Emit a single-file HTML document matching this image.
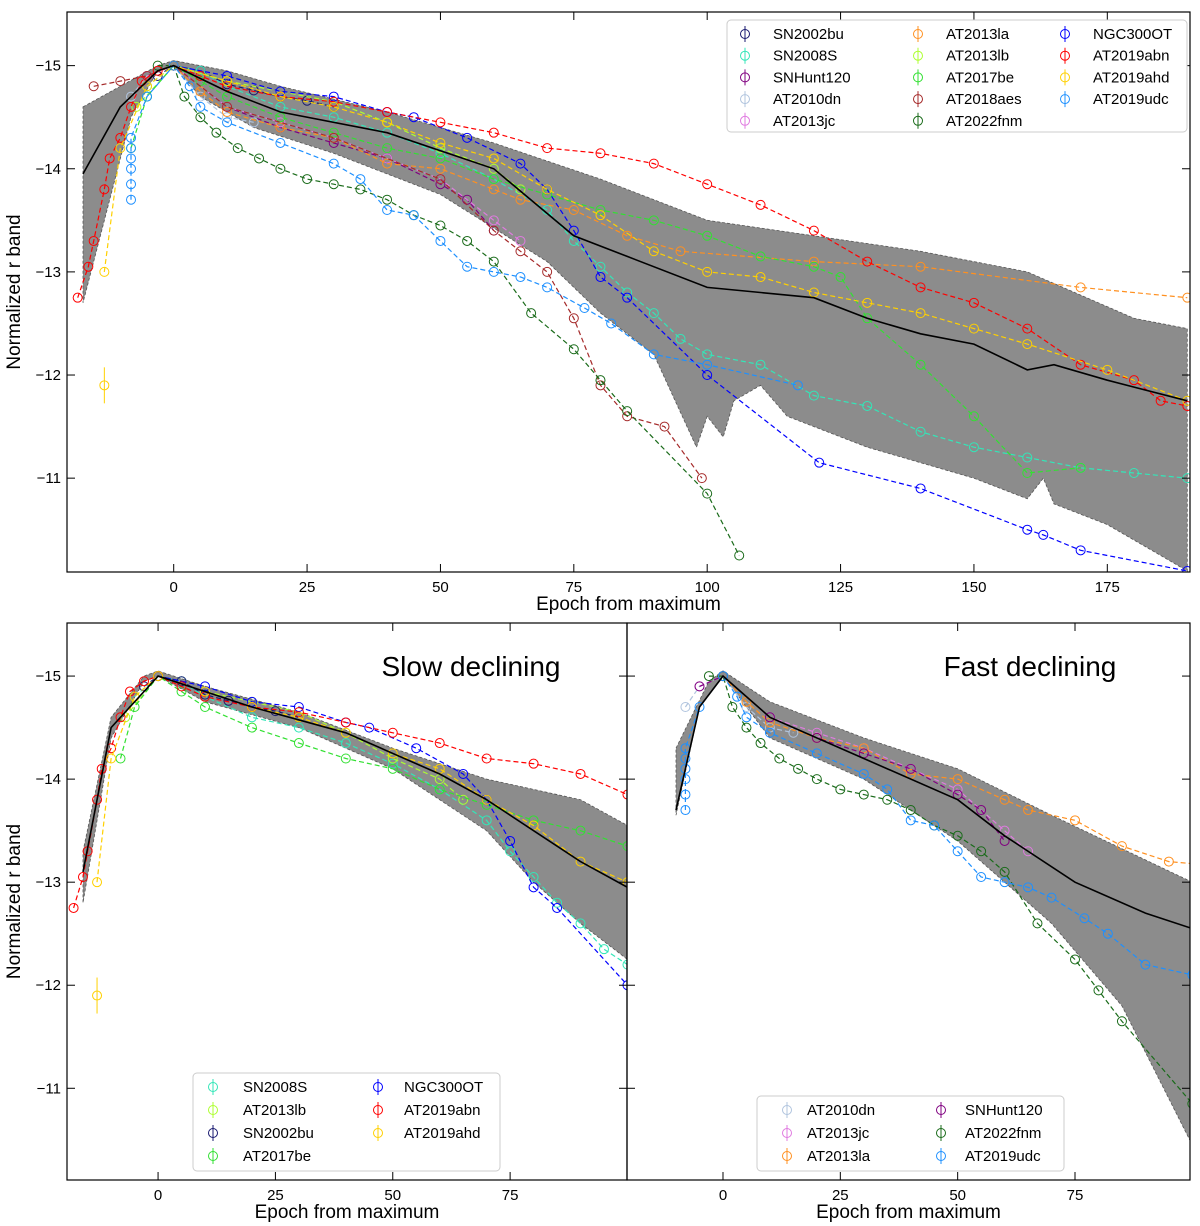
<!DOCTYPE html>
<html><head><meta charset="utf-8"><style>
html,body{margin:0;padding:0;background:#fff;}
svg{display:block;font-family:"Liberation Sans",sans-serif;}
</style></head><body>
<svg id="fig" width="1200" height="1226" xmlns="http://www.w3.org/2000/svg"></svg>
<script>
const sn2002buT=[-3,0,5,10,15,20,25,30];
const sn2002buM=[-14.9,-15,-14.95,-14.82,-14.76,-14.7,-14.66,-14.6];
const sn2008sT=[-5,0,5,10,20,30,40,50,60,70,75,80,85,90,95,100,110,120,130,140,150,160,170,180,190];
const sn2008sM=[-14.8,-15,-14.95,-14.8,-14.6,-14.5,-14.35,-14.15,-13.9,-13.6,-13.3,-13.05,-12.8,-12.6,-12.35,-12.2,-12.1,-11.8,-11.7,-11.45,-11.3,-11.2,-11.1,-11.05,-11.0];
const snhunt120T=[-5,0,10,20,30,40,50,55,60];
const snhunt120M=[-14.9,-15,-14.6,-14.4,-14.25,-14.1,-13.85,-13.7,-13.4];
const at2010dnT=[-8,-5,0,5,10,15];
const at2010dnM=[-14.7,-14.9,-15,-14.7,-14.5,-14.45];
const at2013jcT=[-5,0,10,20,30,40,50,60,65];
const at2013jcM=[-14.9,-15,-14.6,-14.45,-14.3,-14.1,-13.9,-13.5,-13.3];
const at2013laT=[0,5,10,20,30,40,50,60,65,75,85,95,120,140,170,190];
const at2013laM=[-15,-14.75,-14.55,-14.4,-14.3,-14.05,-14.0,-13.8,-13.7,-13.6,-13.35,-13.2,-13.1,-13.05,-12.85,-12.75];
const at2013lbT=[-7,0,10,20,30,40,50,60,65];
const at2013lbM=[-14.6,-15,-14.85,-14.75,-14.65,-14.45,-14.2,-14.0,-13.8];
const at2017beT=[-8,-5,0,5,10,20,30,40,50,60,70,80,90,100,110,120,125,130,140,150,160,170];
const at2017beM=[-14.2,-14.7,-15,-14.85,-14.7,-14.5,-14.35,-14.2,-14.1,-13.9,-13.75,-13.6,-13.5,-13.35,-13.15,-13.05,-12.95,-12.55,-12.1,-11.6,-11.05,-11.1];
const at2018aesT=[-15,-10,-5,0,10,30,50,60,65,70,75,80,85,92,99];
const at2018aesM=[-14.8,-14.85,-14.9,-15,-14.6,-14.3,-13.9,-13.4,-13.2,-13.0,-12.55,-11.9,-11.6,-11.5,-11.0];
const at2022fnmT=[-3,0,2,5,8,12,16,20,25,30,35,40,45,50,55,60,67,75,80,85,100,106];
const at2022fnmM=[-15,-15,-14.7,-14.5,-14.35,-14.2,-14.1,-14.0,-13.9,-13.85,-13.8,-13.7,-13.55,-13.45,-13.3,-13.1,-12.6,-12.25,-11.95,-11.65,-10.85,-10.25];
const ngc300otT=[0,10,20,30,40,45,55,65,70,75,80,85,100,121,140,160,163,170,190];
const ngc300otM=[-15,-14.9,-14.75,-14.7,-14.55,-14.5,-14.3,-14.05,-13.8,-13.4,-12.95,-12.75,-12.0,-11.15,-10.9,-10.5,-10.45,-10.3,-10.1];
const at2019abnT=[-18,-16,-15,-13,-12,-10,-8,-6,-3,0,5,10,20,30,40,50,60,70,80,90,100,110,120,130,140,150,160,170,180,185,190];
const at2019abnM=[-12.75,-13.05,-13.3,-13.8,-14.1,-14.3,-14.6,-14.85,-14.95,-15,-14.9,-14.8,-14.7,-14.65,-14.55,-14.45,-14.35,-14.2,-14.15,-14.05,-13.85,-13.65,-13.4,-13.1,-12.85,-12.7,-12.45,-12.1,-11.95,-11.75,-11.7];
const at2019ahdT=[-13,-10,-5,0,10,20,30,40,50,60,70,80,90,100,110,120,130,140,150,160,175,190];
const at2019ahdM=[-13.0,-14.2,-14.8,-15,-14.85,-14.7,-14.6,-14.45,-14.25,-14.1,-13.8,-13.55,-13.2,-13.0,-12.95,-12.8,-12.7,-12.6,-12.45,-12.3,-12.05,-11.75];
const at2019udcT=[-8,-8,-8,-8,-8,-8,-5,0,3,5,10,20,30,35,40,45,50,55,60,65,70,77,82,90,100,117];
const at2019udcM=[-13.7,-13.85,-14.0,-14.1,-14.2,-14.3,-14.7,-15,-14.8,-14.6,-14.45,-14.25,-14.05,-13.9,-13.6,-13.55,-13.3,-13.05,-13.0,-12.95,-12.85,-12.65,-12.5,-12.2,-12.1,-11.9];
const at2019ahdOutT=[-13];
const at2019ahdOutM=[-11.9];
const allUpT=[-17,-10,-3,0,10,20,40,60,80,100,120,140,160,180,190];
const allUpM=[-14.6,-14.8,-15.0,-15.05,-14.95,-14.8,-14.55,-14.25,-13.9,-13.5,-13.35,-13.2,-13.0,-12.55,-12.45];
const allLoT=[-17,-12,-8,-3,0,5,15,30,50,70,80,90,98,100,103,105,110,115,120,130,140,150,160,163,165,175,185,190];
const allLoM=[-12.7,-13.7,-14.5,-14.95,-15.0,-14.7,-14.4,-14.15,-13.75,-13.1,-12.6,-12.2,-11.3,-11.6,-11.4,-11.75,-11.9,-11.6,-11.5,-11.3,-11.15,-11.0,-10.8,-11.0,-10.75,-10.55,-10.25,-10.1];
const allMeanT=[-17,-10,-3,0,10,20,40,60,75,85,100,110,120,130,140,150,160,165,175,190];
const allMeanM=[-13.95,-14.6,-14.95,-15,-14.75,-14.55,-14.35,-14.0,-13.35,-13.15,-12.85,-12.8,-12.75,-12.55,-12.4,-12.3,-12.05,-12.1,-11.95,-11.75];
const slowUpT=[-16,-10,-3,0,10,30,50,70,90,100];
const slowUpM=[-13.3,-14.6,-15.0,-15.05,-14.9,-14.65,-14.3,-14.0,-13.8,-13.55];
const slowLoT=[-16,-10,-3,0,10,30,50,70,80,90,100];
const slowLoM=[-12.8,-14.4,-14.95,-15,-14.75,-14.5,-14.1,-13.5,-13.0,-12.6,-12.25];
const slowMeanT=[-16,-10,0,20,40,60,70,80,90,100];
const slowMeanM=[-13.1,-14.5,-15,-14.7,-14.45,-14.05,-13.8,-13.5,-13.2,-12.95];
const fastUpT=[-10,-3,0,10,30,50,70,100];
const fastUpM=[-14.3,-14.95,-15.05,-14.75,-14.4,-14.1,-13.65,-13.0];
const fastLoT=[-10,-5,0,10,30,50,70,85,100];
const fastLoM=[-13.65,-14.7,-15.0,-14.4,-14.0,-13.4,-12.6,-11.8,-10.45];
const fastMeanT=[-10,-5,0,10,30,50,60,75,90,100];
const fastMeanM=[-13.7,-14.7,-15.0,-14.6,-14.2,-13.8,-13.45,-13.0,-12.7,-12.55];

const S={
 'SN2002bu':[sn2002buT,sn2002buM,'#191970'],
 'SN2008S':[sn2008sT,sn2008sM,'#33e6b8'],
 'SNHunt120':[snhunt120T,snhunt120M,'#800080'],
 'AT2010dn':[at2010dnT,at2010dnM,'#b0c4de'],
 'AT2013jc':[at2013jcT,at2013jcM,'#e07be0'],
 'AT2013la':[at2013laT,at2013laM,'#ff9020'],
 'AT2013lb':[at2013lbT,at2013lbM,'#adff2f'],
 'AT2017be':[at2017beT,at2017beM,'#32e032'],
 'AT2018aes':[at2018aesT,at2018aesM,'#a52a2a'],
 'AT2022fnm':[at2022fnmT,at2022fnmM,'#1a6b1a'],
 'NGC300OT':[ngc300otT,ngc300otM,'#0000ff'],
 'AT2019abn':[at2019abnT,at2019abnM,'#ff0000'],
 'AT2019ahd':[at2019ahdT,at2019ahdM,'#ffd000'],
 'AT2019udc':[at2019udcT,at2019udcM,'#1e90ff']
};
const NS='http://www.w3.org/2000/svg';
const svg=document.getElementById('fig');
function mk(tag,attrs,parent){const e=document.createElementNS(NS,tag);for(const k in attrs)e.setAttribute(k,attrs[k]);(parent||svg).appendChild(e);return e;}

const panels=[
 {id:'top',x:67,y:12,w:1123,h:560,xmin:-20,xmax:190.5,ytop:-15.52,ybot:-10.09,xt:[0,25,50,75,100,125,150,175],
  names:Object.keys(S),band:[allUpT,allUpM,allLoT,allLoM,allMeanT,allMeanM],outlier:true},
 {id:'slow',x:67,y:623,w:560,h:557,xmin:-19.4,xmax:99.9,ytop:-15.515,ybot:-10.11,xt:[0,25,50,75],
  names:['SN2008S','AT2013lb','SN2002bu','AT2017be','NGC300OT','AT2019abn','AT2019ahd'],band:[slowUpT,slowUpM,slowLoT,slowLoM,slowMeanT,slowMeanM],outlier:true},
 {id:'fast',x:627,y:623,w:563,h:557,xmin:-20.45,xmax:99.5,ytop:-15.515,ybot:-10.11,xt:[0,25,50,75],
  names:['AT2010dn','AT2013jc','AT2013la','SNHunt120','AT2022fnm','AT2019udc'],band:[fastUpT,fastUpM,fastLoT,fastLoM,fastMeanT,fastMeanM],outlier:false}
];
const defs=mk('defs',{});
panels.forEach(p=>{
 const X=t=>p.x+(t-p.xmin)/(p.xmax-p.xmin)*p.w;
 const Y=m=>p.y+(m-p.ytop)/(p.ybot-p.ytop)*p.h;
 const cp=mk('clipPath',{id:'c'+p.id},defs);mk('rect',{x:p.x,y:p.y,width:p.w,height:p.h},cp);
 const g=mk('g',{'clip-path':'url(#c'+p.id+')'});
 
 
 const b=p.band;
 let d='';b[0].forEach((t,i)=>{d+=(i?'L':'M')+X(t).toFixed(1)+' '+Y(b[1][i]).toFixed(1)});
 for(let i=b[2].length-1;i>=0;i--)d+='L'+X(b[2][i]).toFixed(1)+' '+Y(b[3][i]).toFixed(1);
 const band=mk('path',{d:d+'Z',fill:'#8c8c8c',stroke:'#555','stroke-dasharray':'3,2','stroke-width':0.8},g);
 
 
 p.names.forEach(n=>{
  const [T,M,c]=S[n];
  const sg=mk('g',{},g);
  
  
  let pd='';T.forEach((t,i)=>{pd+=(i?'L':'M')+X(t).toFixed(1)+' '+Y(M[i]).toFixed(1)});
  mk('path',{d:pd,fill:'none',stroke:c,'stroke-width':1.2,'stroke-dasharray':'5,3'},sg);
  T.forEach((t,i)=>{mk('circle',{cx:X(t),cy:Y(M[i]),r:4.5,fill:'none',stroke:c,'stroke-width':1},sg);});
  if(n==='AT2019ahd'&&p.outlier){
   const ox=X(at2019ahdOutT[0]),oy=Y(at2019ahdOutM[0]);
   mk('line',{x1:ox,x2:ox,y1:oy-18,y2:oy+18,stroke:c,'stroke-width':1},sg);
   mk('circle',{cx:ox,cy:oy,r:4.5,fill:'none',stroke:c,'stroke-width':1},sg);
  }
 });
 let md='';b[4].forEach((t,i)=>{md+=(i?'L':'M')+X(t).toFixed(1)+' '+Y(b[5][i]).toFixed(1)});
 const ml=mk('path',{d:md,fill:'none',stroke:'#000','stroke-width':1.6},g);
 
 
 const fr=mk('rect',{x:p.x,y:p.y,width:p.w,height:p.h,fill:'none',stroke:'#000','stroke-width':1.2});
 
 
 p.xt.forEach(t=>{const x=X(t);
  mk('line',{x1:x,x2:x,y1:p.y+p.h,y2:p.y+p.h-8,stroke:'#000'});
  mk('line',{x1:x,x2:x,y1:p.y,y2:p.y+8,stroke:'#000'});
  const tx=mk('text',{x:x,y:p.y+p.h+20,'text-anchor':'middle','font-size':15});tx.textContent=t;
  
  
 });
 [-15,-14,-13,-12,-11].forEach(m=>{const y=Y(m);
  mk('line',{x1:p.x,x2:p.x+8,y1:y,y2:y,stroke:'#000'});
  mk('line',{x1:p.x+p.w,x2:p.x+p.w-8,y1:y,y2:y,stroke:'#000'});
  if(p.id!=='fast'){const ty=mk('text',{x:p.x-6,y:y+5,'text-anchor':'end','font-size':15});ty.textContent='\u2212'+(-m);
   
   }
 });
 const xl=mk('text',{x:p.x+p.w/2,y:p.y+p.h+38,'text-anchor':'middle','font-size':19});xl.textContent='Epoch from maximum';
 
 
 if(p.id!=='fast'){const cy=p.y+p.h/2;const yl=mk('text',{x:20,y:cy,'text-anchor':'middle','font-size':19,transform:'rotate(-90 20 '+cy+')'});yl.textContent='Normalized r band';
  
  }
 const lg=mk('g',{});
 
 
 let rows,lx,ly,lw,lh,colx,rowy,txo;
 if(p.id==='top'){rows=5;lx=727;ly=20;lw=460;lh=112;colx=[745,918,1065];rowy=34;txo=[28,28,28];}
 else if(p.id==='slow'){rows=4;lx=193;ly=1073;lw=307;lh=98;colx=[213,378];rowy=1087;txo=[30,26];}
 else{rows=3;lx=757;ly=1096;lw=307;lh=75;colx=[787,941];rowy=1110;txo=[20,24];}
 mk('rect',{x:lx,y:ly,width:lw,height:lh,rx:4,fill:'#fff',stroke:'#ccc'},lg);
 const sp=p.id==='top'?21.7:23;
 p.names.forEach((n,i)=>{const ci=Math.floor(i/rows),ri=i%rows;const x=colx[ci],y=rowy+ri*sp;const c=S[n][2];
  const e=mk('g',{},lg);
  
  
  mk('line',{x1:x,x2:x,y1:y-8,y2:y+8,stroke:c},e);
  mk('circle',{cx:x,cy:y,r:4.5,fill:'none',stroke:c},e);
  const tt=mk('text',{x:x+txo[ci],y:y+5,'font-size':15},e);tt.textContent=n;
 });
 if(p.id!=='top'){const ti=mk('text',{x:p.id==='slow'?471:1030,y:676,'text-anchor':'middle','font-size':28});ti.textContent=p.id==='slow'?'Slow declining':'Fast declining';
  
  }
});
</script>
</body></html>
